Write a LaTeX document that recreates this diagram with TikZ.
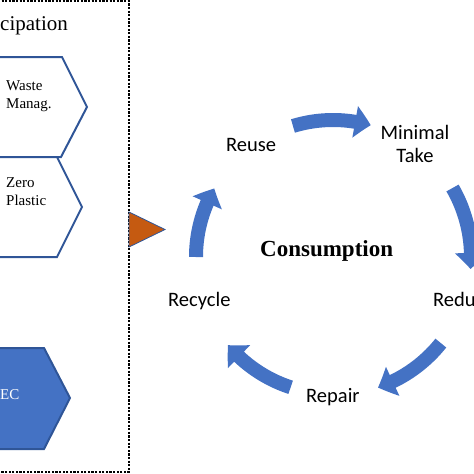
\documentclass[tikz,border=0pt]{standalone}
\usepackage{fontspec}
\setmainfont{Liberation Serif}
\newfontfamily\calfont{Carlito}
\usetikzlibrary{arrows.meta,bending}
\definecolor{arrowblue}{HTML}{4472C4}
\definecolor{hexline}{HTML}{2F5597}
\definecolor{triorange}{HTML}{C55A11}
\begin{document}
\begin{tikzpicture}[x=1pt,y=-1pt,
  cyc/.style={draw=arrowblue, line width=14pt, -{Triangle[width=31pt,length=16pt,bend]}},
  lbl/.style={font=\calfont\fontsize{20.5}{23}\selectfont, inner sep=0pt},
  hex/.style={draw=hexline, line width=2pt, fill=white, line join=miter},
  hextxt/.style={font=\fontsize{15}{18}\selectfont, inner sep=0pt, align=left},
]
\useasboundingbox (0,0) rectangle (474,474);
\clip (0,0) rectangle (474,474);
% dotted frame
\draw[line width=2.4pt, dash pattern=on 2.2pt off 1.4pt] (-20,1.2) -- (129,1.2) -- (129,472) -- (-20,472);
% title
\node[anchor=base west, inner sep=0pt, font=\fontsize{21}{24}\selectfont] (title) at (0,30) {cipation};
% hexagons
\draw[hex] (-40,57) -- (62,57) -- (87,107) -- (61,157) -- (-40,157) -- cycle;
\draw[hex] (-40,157) -- (57,157) -- (82,207) -- (57,257) -- (-40,257) -- cycle;
\draw[hex, fill=arrowblue] (-40,348) -- (44,348) -- (70,398) -- (44,449) -- (-40,449) -- cycle;
\node[hextxt, anchor=base west] (waste) at (6,108) {Waste\\Manag.};
\node[hextxt, anchor=base west] (zero) at (6,205) {Zero\\Plastic};
\node[hextxt, anchor=base west, text=white] (ec) at (0,399) {EC};
% orange triangle
\draw[fill=triorange, draw=hexline, line width=0.8pt] (129,212) -- (165,229.5) -- (129,247) -- cycle;
% center
\node[anchor=base west, inner sep=0pt, font=\bfseries\fontsize{23}{26}\selectfont] (cons) at (260,256) {Consumption};
% labels
\node[lbl, anchor=base west] (reuse) at (226,151) {Reuse};
\node[lbl, anchor=base, align=center] (mintake) at (415,162) {Minimal\\Take};
\node[lbl, anchor=base west] (reduce) at (433,306) {Reduce};
\node[lbl, anchor=base west] (repair) at (306,402) {Repair};
\node[lbl, anchor=base west] (recycle) at (168,306) {Recycle};
% cycle arrows
\coordinate (c) at (333,257);
\draw[cyc] (c) ++(-107:137) arc[start angle=-107, end angle=-74, radius=137];
\draw[cyc] (c) ++(-30:138) arc[start angle=-30, end angle=5, radius=138];
\draw[cyc] (c) ++(38.6:138) arc[start angle=38.6, end angle=71, radius=138];
\draw[cyc] (c) ++(108:137) arc[start angle=108, end angle=140, radius=137];
\draw[cyc] (c) ++(180:137) arc[start angle=180, end angle=210, radius=137];
\end{tikzpicture}
\end{document}
